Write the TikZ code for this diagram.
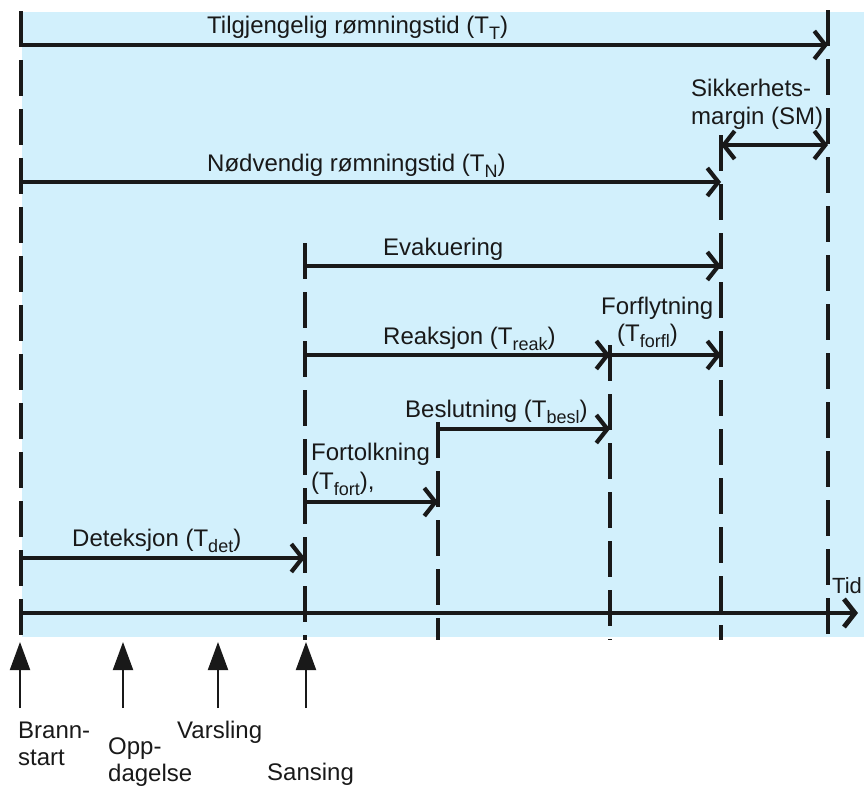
\documentclass[tikz,border=0pt]{standalone}
\usepackage{fontspec}
\setmainfont{Liberation Sans}
\usetikzlibrary{arrows.meta}
\definecolor{bgcyan}{RGB}{210,240,252}
\definecolor{ink}{RGB}{25,25,25}
\newcommand\lowsub[1]{\raisebox{-6pt}{\fontsize{18}{18}\selectfont #1}}
\begin{document}
\begin{tikzpicture}[x=1pt,y=-1pt,
  lbl/.style={anchor=base west,inner sep=0pt,text=ink,font=\fontsize{24}{28}\selectfont},
  tline/.style={draw=ink,line width=3.2pt,dash pattern=on 36pt off 13pt},
  span/.style={draw=ink,line width=4.2pt,-{Straight Barb[length=11pt,width=28pt]}},
  bispan/.style={draw=ink,line width=4.2pt,{Straight Barb[length=11pt,width=28pt]}-{Straight Barb[length=11pt,width=28pt]}},
  axis/.style={draw=ink,line width=4.8pt,-{Straight Barb[length=11pt,width=28pt]}},
  upar/.style={draw=ink,line width=2pt,-{Triangle[length=28pt,width=20pt]}}
]
\useasboundingbox (0,0) rectangle (864,785);
\fill[bgcyan] (22,12) rectangle (864,637);

% time lines
\coordinate (l0t) at (21,11);  \coordinate (l0b) at (21,636);
\coordinate (l1t) at (305,243); \coordinate (l1b) at (305,640);
\coordinate (l2t) at (438,422); \coordinate (l2b) at (438,640);
\coordinate (l3t) at (610,345); \coordinate (l3b) at (610,640);
\coordinate (l4t) at (721,135); \coordinate (l4b) at (721,640);
\coordinate (l5t) at (828,10);  \coordinate (l5b) at (828,640);
\foreach \i in {0,...,5} {\draw[tline] (l\i t) -- (l\i b);}

% span arrows
\coordinate (tt0) at (21,45);  \coordinate (tt1) at (828,45);
\coordinate (sm0) at (721,145); \coordinate (sm1) at (828,145);
\coordinate (tn0) at (21,182); \coordinate (tn1) at (721,182);
\coordinate (ev0) at (305,266); \coordinate (ev1) at (721,266);
\coordinate (re0) at (305,355); \coordinate (re1) at (610,355);
\coordinate (ff1) at (721,355);
\coordinate (be0) at (438,429); \coordinate (be1) at (610,429);
\coordinate (fo0) at (305,502); \coordinate (fo1) at (438,502);
\coordinate (de0) at (21,558);  \coordinate (de1) at (305,558);
\coordinate (ax0) at (21,613);  \coordinate (ax1) at (858,613);

\draw[span] (tt0) -- (tt1);
\draw[bispan] (sm0) -- (sm1);
\draw[span] (tn0) -- (tn1);
\draw[span] (ev0) -- (ev1);
\draw[span] (re0) -- (re1);
\draw[span] (re1) -- (ff1);
\draw[span] (be0) -- (be1);
\draw[span] (fo0) -- (fo1);
\draw[span] (de0) -- (de1);
\draw[axis] (ax0) -- (ax1);

% labels
\node[lbl] (ltt) at (207,33) {Tilgjengelig rømningstid (T\lowsub{T})};
\node[lbl] (lsm1) at (691,96) {Sikkerhets-};
\node[lbl] (lsm2) at (691,124) {margin (SM)};
\node[lbl] (ltn) at (207,171) {Nødvendig rømningstid (T\lowsub{N})};
\node[lbl] (lev) at (383,255) {Evakuering};
\node[lbl] (lff1) at (601,314) {Forflytning};
\node[lbl] (lff2) at (617,341) {(T\lowsub{forfl})};
\node[lbl] (lre) at (383,344) {Reaksjon (T\lowsub{reak})};
\node[lbl] (lbe) at (405,417) {Beslutning (T\lowsub{besl})};
\node[lbl] (lfo1) at (311,460) {Fortolkning};
\node[lbl] (lfo2) at (311,489) {(T\lowsub{fort}),};
\node[lbl] (lde) at (72,546) {Deteksjon (T\lowsub{det})};
\node[lbl,font=\fontsize{22}{26}\selectfont] (ltid) at (832,593) {Tid};

% event arrows
\coordinate (e0) at (20,708); \coordinate (e0t) at (20,642);
\coordinate (e1) at (123,708); \coordinate (e1t) at (123,642);
\coordinate (e2) at (218,708); \coordinate (e2t) at (218,642);
\coordinate (e3) at (306,708); \coordinate (e3t) at (306,642);
\foreach \i in {0,...,3} {\draw[upar] (e\i) -- (e\i t);}

\node[lbl] (bs1) at (18,738) {Brann-};
\node[lbl] (bs2) at (18,765) {start};
\node[lbl] (op1) at (108,754) {Opp-};
\node[lbl] (op2) at (108,781) {dagelse};
\node[lbl] (va) at (177,738) {Varsling};
\node[lbl] (sa) at (267,780) {Sansing};
\end{tikzpicture}
\end{document}
